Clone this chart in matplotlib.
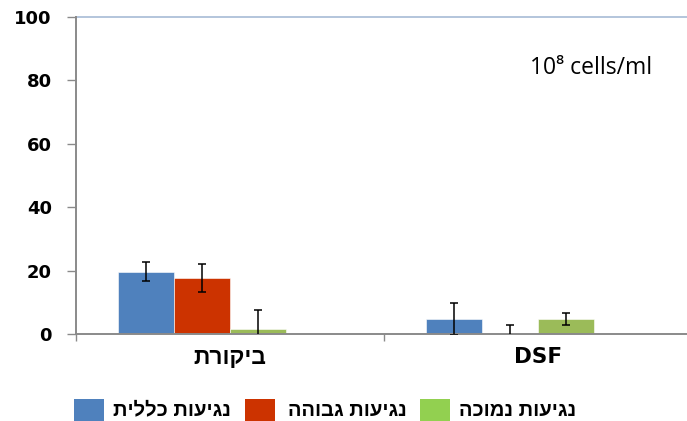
import matplotlib
matplotlib.use("Agg")
import matplotlib.pyplot as plt
from matplotlib.patches import Rectangle
import numpy as np

def rtl(s):
    return s[::-1]

categories = ["ביקורת", "DSF"]
series_names = ["נגיעות כללית", "נגיעות גבוהה", "נגיעות נמוכה"]
values = {
    "נגיעות כללית": [19.7, 4.8],
    "נגיעות גבוהה": [17.8, 0.0],
    "נגיעות נמוכה": [1.6, 4.7],
}
errors = {
    "נגיעות כללית": [3.0, 5.0],
    "נגיעות גבוהה": [4.4, 2.7],
    "נגיעות נמוכה": [6.0, 2.0],
}
bar_colors = ["#4F81BD", "#CC3300", "#9BBB59"]
legend_colors = ["#4F81BD", "#CC3300", "#92D050"]
yticks = [0, 20, 40, 60, 80, 100]
annotation = "10⁸ cells/ml"

plt.rcParams['font.family'] = ['DejaVu Sans']
HEB = ['Liberation Sans', 'DejaVu Sans']

W, H = 687, 421
fig = plt.figure(figsize=(W/100, H/100), dpi=100)
ax = fig.add_axes([76/W, 87/H, 616/W, 317/H])

x = np.arange(len(categories))
slot_w = 56.3/308
offsets = [-0.5 + (41.5 + slot_w*308*(i+0.5))/308 for i in range(4)]
for i, name in enumerate(series_names):
    ax.bar(x + offsets[i], values[name], width=slot_w, color=bar_colors[i],
           edgecolor='white', linewidth=0.4, zorder=2)
    ax.errorbar(x + offsets[i], values[name], yerr=errors[name], fmt='none',
                ecolor='black', elinewidth=1.1, capsize=3, capthick=1.1, zorder=3)

ax.set_xlim(-0.5, 1.5)
ax.set_ylim(0, 100)
ax.axhline(100, color='#A7BBD6', lw=1.2, zorder=1, clip_on=False)

for s in ['top', 'right']:
    ax.spines[s].set_visible(False)
for s in ['left', 'bottom']:
    ax.spines[s].set_color('#8A8A8A')
    ax.spines[s].set_linewidth(1.4)

ax.set_yticks(yticks)
ax.set_yticklabels([str(v) for v in yticks], fontsize=13, fontweight='bold')
ax.tick_params(axis='y', direction='out', length=6.5, width=1, color='#8A8A8A', pad=11)

ax.set_xticks(x)
ax.set_xticklabels(["" for c in categories])
ax.tick_params(axis='x', which='major', length=0)
ax.set_xticks([-0.5, 0.5, 1.5], minor=True)
ax.tick_params(axis='x', which='minor', direction='out', length=5, width=1, color='#8A8A8A')

# category labels (Hebrew needs visual-order text)
for xi, c in zip(x, categories):
    is_heb = any('\u0590' <= ch <= '\u05FF' for ch in c)
    ax.text(xi, -7.4, rtl(c) if is_heb else c, ha='center', va='center',
            fontsize=16.5 if is_heb else 15.5, fontweight='bold',
            family=HEB if is_heb else ['DejaVu Sans'], clip_on=False)

ax.text(454/616, 1 - 51/317, annotation, transform=ax.transAxes, fontsize=16.5,
        family=['Open Sans', 'DejaVu Sans'], ha='left', va='center')

# legend
sq_x = [74, 245, 420]
txt_x = [113, 288, 459]
for i, name in enumerate(series_names):
    fig.add_artist(Rectangle((sq_x[i]/W, 0.5/H), 30/W, 22/H, transform=fig.transFigure,
                             facecolor=legend_colors[i], edgecolor='none'))
    fig.text(txt_x[i]/W, 1 - 410/H, rtl(name), fontsize=14.5, fontweight='bold',
             family=HEB, ha='left', va='center')

fig.savefig("out.png", dpi=100)
